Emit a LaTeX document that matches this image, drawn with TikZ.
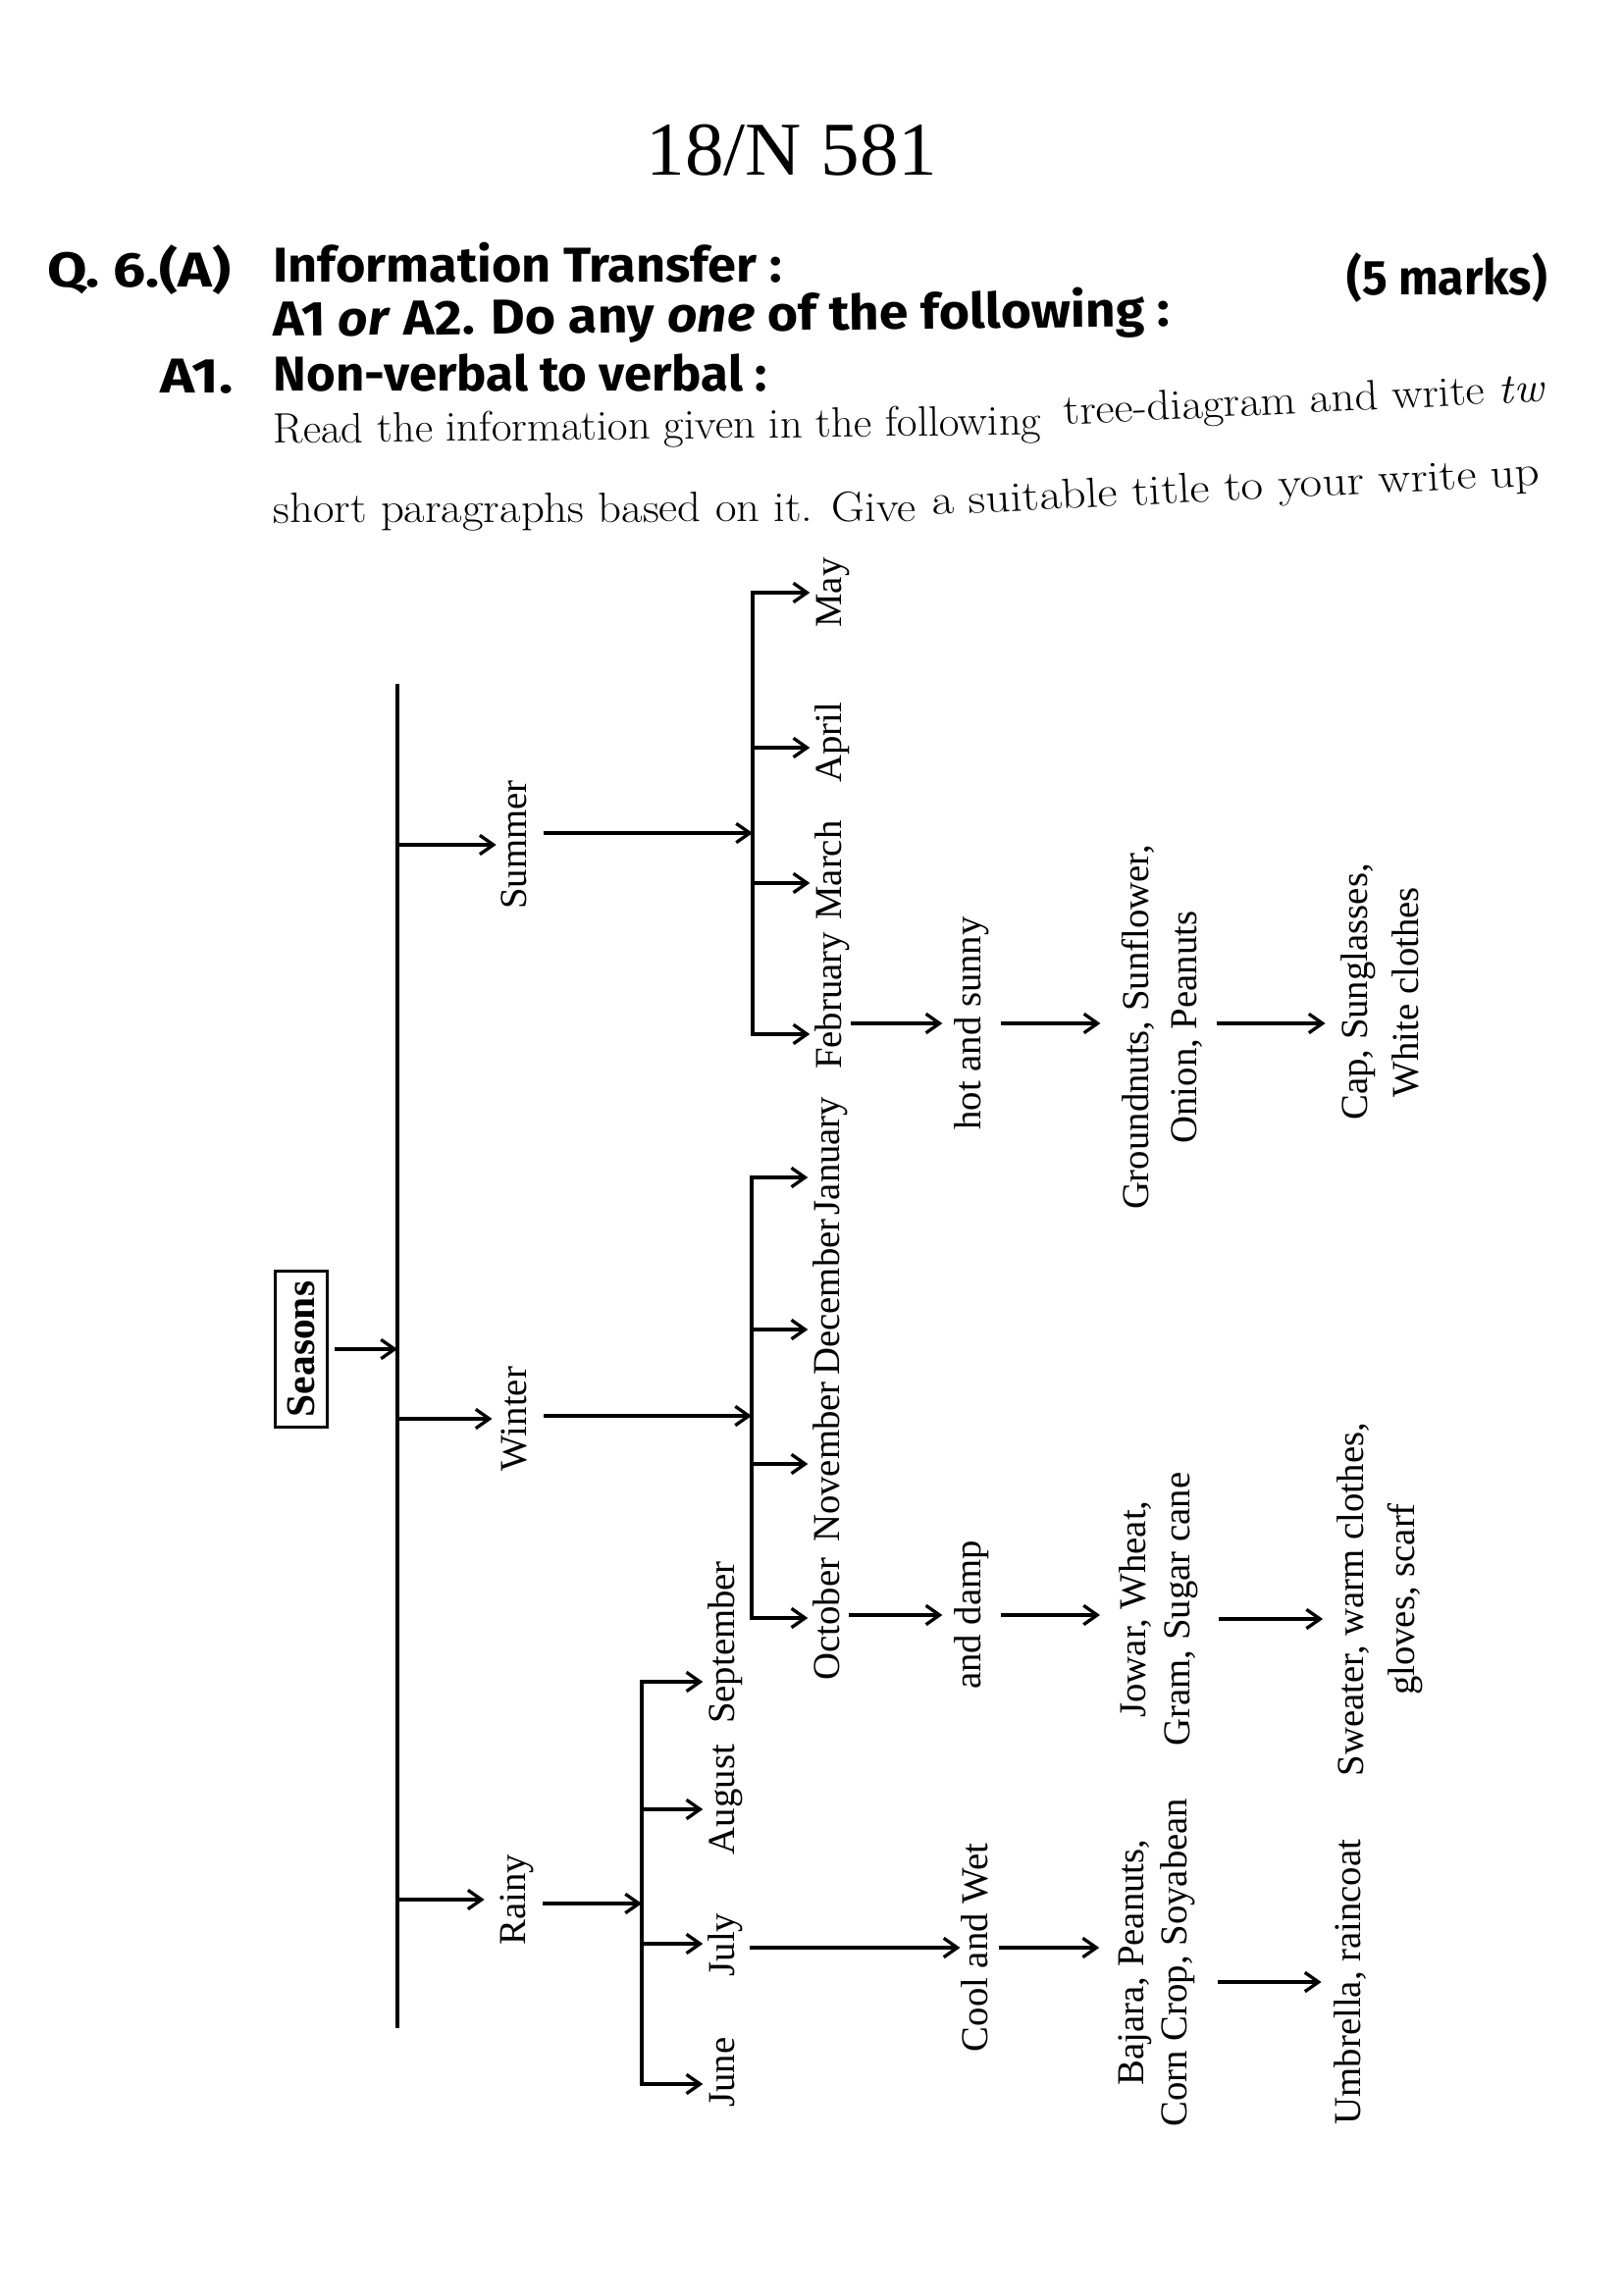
\documentclass[tikz,border=0pt]{standalone}
\usepackage{fontspec}
\setsansfont{Fira Sans}
\newfontfamily\timesf{Liberation Serif}
\usetikzlibrary{arrows.meta}
\newlength\pxl
\setlength\pxl{0.126965mm}
\newcommand\hfit[2]{\resizebox{#1\pxl}{\height}{#2}}
\tikzset{
  hdr/.style={font=\sffamily\bfseries\fontsize{18}{21}\selectfont, inner sep=0pt, anchor=base west},
  body/.style={font=\fontsize{15.6}{18}\selectfont, inner sep=0pt, anchor=base west},
  lbl/.style={font=\timesf\fontsize{14}{17}\selectfont, rotate=90, inner sep=0pt, text height=10pt, text depth=3pt},
  twoline/.style={font=\timesf\fontsize{14}{#1}\selectfont, rotate=90, inner sep=0pt, align=center},
  ln/.style={line width=1.2pt},
  arr/.style={line width=1.2pt, -{Straight Barb[length=5pt,width=7pt]}},
  sbox/.style={draw, line width=1.1pt, rotate=90, minimum width=159\pxl, minimum height=53\pxl, inner sep=0pt, font=\timesf\bfseries\fontsize{15}{17}\selectfont}
}
\begin{document}
\begin{tikzpicture}[x=0.126965mm, y=-0.126965mm]
\useasboundingbox (0,0) rectangle (1654,2339);
\fill[white] (0,0) rectangle (1654,2339);

% ---------- header ----------
\node[anchor=base west, inner sep=0pt, font=\timesf\fontsize{28}{30}\selectfont] (title) at (658,179) {\hfit{297}{18/N 581}};
\node[hdr] (qno) at (48,292) {\hfit{187}{Q. 6.(A)}};
\node[hdr] (itr) at (278,288) {\hfit{518}{Information Transfer :}};
\node[hdr] (marks) at (1372,300) {\hfit{204}{(5 marks)}};
\node[hdr, rotate=0.65] (doany) at (278,343) {\hfit{914}{A1 \textit{or} A2. Do any \textit{one} of the following :}};
\node[hdr] (aone) at (163,400) {\hfit{74}{A1.}};
\node[hdr] (nvv) at (278,398) {\hfit{503}{Non-verbal to verbal :}};
\node[body, rotate=0.66] (reada) at (278,452) {\hfit{783}{Read the information given in the following}};
\node[body, rotate=2.8] (readb) at (1084,433) {\hfit{491}{tree-diagram and write \textit{tw}}};
\node[body, rotate=0.15] (shorta) at (278,533) {\hfit{655}{short paragraphs based on it. Give}};
\node[body, rotate=2.8] (shortb) at (950,525) {\hfit{620}{a suitable title to your write up}};

% ---------- spine and root ----------
\coordinate (spT) at (405,697);
\coordinate (spB) at (405,2067);
\draw[ln] (spT) -- (spB);
\node[sbox] (seasons) at (307,1375) {Seasons};
\draw[arr, shorten <=2pt] (seasons.south) -- (seasons.south -| spT);

% ---------- seasons ----------
\node[lbl] (summer) at (527,861) {Summer};
\node[lbl] (winter) at (527,1446) {Winter};
\node[lbl] (rainy) at (526,1936) {Rainy};
\draw[arr, shorten >=1pt] (summer.north -| spT) -- (summer.north);
\draw[arr, shorten >=2.5pt] (winter.north -| spT) -- (winter.north);
\draw[arr, shorten >=5pt] (rainy.north -| spT) -- (rainy.north);

% ---------- summer months ----------
\node[lbl] (may) at (848,604) {May};
\node[lbl] (april) at (848,757) {April};
\node[lbl] (march) at (848,887) {March};
\node[lbl] (feb) at (848,1020) {February};
\coordinate (sM) at (767,849);
\coordinate (s1) at (767,604);
\coordinate (s2) at (767,762);
\coordinate (s3) at (767,900);
\coordinate (s4) at (767,1054);
\draw[arr, shorten <=3pt] (summer.south |- sM) -- (sM);
\draw[ln, line cap=rect] (s1) -- (s4);
\draw[arr, shorten >=1.5pt] (s1) -- (s1 -| may.north);
\draw[arr, shorten >=1.5pt] (s2) -- (s2 -| april.north);
\draw[arr, shorten >=1.5pt] (s3) -- (s3 -| march.north);
\draw[arr, shorten >=1.5pt] (s4) -- (s4 -| feb.north);

% ---------- winter months ----------
\node[lbl] (jan) at (846,1178) {January};
\node[lbl] (dec) at (846,1322) {December};
\node[lbl] (nov) at (846,1490) {November};
\node[lbl] (oct) at (846,1650) {October};
\coordinate (wM) at (766,1443);
\coordinate (w1) at (766,1200);
\coordinate (w2) at (766,1355);
\coordinate (w3) at (766,1492);
\coordinate (w4) at (766,1649);
\draw[arr, shorten <=3pt] (winter.south |- wM) -- (wM);
\draw[ln, line cap=rect] (w1) -- (w4);
\draw[arr, shorten >=1.5pt] (w1) -- (w1 -| jan.north);
\draw[arr, shorten >=1.5pt] (w2) -- (w2 -| dec.north);
\draw[arr, shorten >=1.5pt] (w3) -- (w3 -| nov.north);
\draw[arr, shorten >=1.5pt] (w4) -- (w4 -| oct.north);

% ---------- rainy months ----------
\node[lbl] (sep) at (739,1674) {September};
\node[lbl] (aug) at (739,1834) {August};
\node[lbl] (jul) at (739,1982) {July};
\node[lbl] (jun) at (739,2112) {June};
\coordinate (rM) at (654,1940);
\coordinate (r1) at (654,1714);
\coordinate (r2) at (654,1844);
\coordinate (r3) at (654,1981);
\coordinate (r4) at (654,2124);
\draw[arr, shorten <=3pt] (rainy.south |- rM) -- (rM);
\draw[ln, line cap=rect] (r1) -- (r4);
\draw[arr, shorten >=1.5pt] (r1) -- (r1 -| sep.north);
\draw[arr, shorten >=1.5pt] (r2) -- (r2 -| aug.north);
\draw[arr, shorten >=1.5pt] (r3) -- (r3 -| jul.north);
\draw[arr, shorten >=1.5pt] (r4) -- (r4 -| jun.north);

% ---------- summer chain ----------
\node[lbl] (hot) at (990,1043) {hot and sunny};
\node[twoline=17.8] (cropS) at (1184,1047) {Groundnuts, Sunflower,\\Onion, Peanuts};
\node[twoline=18.7] (clothS) at (1406,1011) {Cap, Sunglasses,\\White clothes};
\draw[arr, shorten >=4pt] (feb.south |- hot) -- (hot.north);
\draw[arr, shorten <=4pt, shorten >=7.5pt] (hot.south) -- (hot.south -| cropS.north);
\draw[arr, shorten <=5pt, shorten >=5.5pt] (cropS.south |- hot) -- (clothS.north |- hot);

% ---------- winter chain ----------
\node[lbl] (damp) at (990,1646) {and damp};
\node[twoline=16.2] (cropW) at (1181,1640) {Jowar, Wheat,\\Gram, Sugar cane};
\node[twoline=18.7] (clothW) at (1406,1630) {Sweater, warm clothes,\\gloves, scarf};
\draw[arr, shorten >=4pt] (oct.south |- damp) -- (damp.north);
\draw[arr, shorten <=4pt, shorten >=7pt] (damp.south) -- (damp.south -| cropW.north);
\draw[arr, shorten <=7.5pt, shorten >=5pt] (cropW.south |- oct) -- (clothW.north |- oct);

% ---------- rainy chain ----------
\node[lbl] (cool) at (997,1985) {Cool and Wet};
\node[twoline=15.8] (cropR) at (1179,2000) {Bajara, Peanuts,\\Corn Crop, Soyabean};
\node[lbl] (umb) at (1377,2020) {Umbrella, raincoat};
\draw[arr, shorten <=2.5pt] (jul.south |- cool) -- (cool.north);
\draw[arr, shorten <=1pt, shorten >=7pt] (cool.south) -- (cool.south -| cropR.north);
\draw[arr, shorten <=8pt, shorten >=4.3pt] (cropR.south |- umb) -- (umb.north);
\end{tikzpicture}
\end{document}
